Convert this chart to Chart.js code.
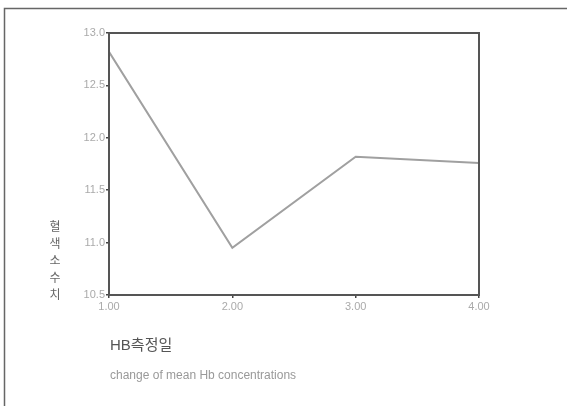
<!DOCTYPE html>
<html>
<head>
<meta charset="utf-8">
<script src="https://cdn.jsdelivr.net/npm/chart.js@4"></script>
<style>
  html, body { margin: 0; padding: 0; background: #fff; }
  #wrap { width: 567px; height: 406px; }
</style>
</head>
<body>
<div id="wrap"><canvas id="myChart" width="567" height="406"></canvas></div>
<script>
// datos
const dias = [1, 2, 3, 4];
const valoresHb = [12.82, 10.95, 11.82, 11.76];
const ticksY = [10.5, 11.0, 11.5, 12.0, 12.5, 13.0];
const tituloX = "HB측정일";
const subtitulo = "change of mean Hb concentrations";
const tituloY = "혈색소수치";

// marco, caja del grafico y textos
const decoracion = {
  id: "decoracion",
  beforeDraw(chart) {
    const ctx = chart.ctx;
    ctx.save();
    ctx.fillStyle = "#fff";
    ctx.fillRect(0, 0, chart.width, chart.height);
    ctx.strokeStyle = "#666";
    ctx.lineWidth = 1.5;
    ctx.beginPath();
    ctx.moveTo(4.5, chart.height);
    ctx.lineTo(4.5, 8.5);
    ctx.lineTo(chart.width, 8.5);
    ctx.stroke();
    ctx.restore();
  },
  afterDraw(chart) {
    const ctx = chart.ctx;
    const a = chart.chartArea;
    ctx.save();
    ctx.strokeStyle = "#555";
    ctx.lineWidth = 2;
    ctx.strokeRect(a.left, a.top, a.right - a.left, a.bottom - a.top);

    ctx.fillStyle = "#555";
    ctx.font = "15px 'Liberation Sans', 'Noto Sans CJK KR', sans-serif";
    ctx.textBaseline = "middle";
    ctx.textAlign = "left";
    ctx.fillText(tituloX, 110, 346);

    ctx.fillStyle = "#999";
    ctx.font = "12px 'Liberation Sans', sans-serif";
    ctx.fillText(subtitulo, 110, 376);

    ctx.fillStyle = "#666";
    ctx.font = "12px 'Noto Sans CJK KR', sans-serif";
    ctx.textAlign = "center";
    const chars = tituloY.split("");
    chars.forEach((c, i) => {
      ctx.fillText(c, 55, 226 + i * 17);
    });
    ctx.restore();
  }
};

const ctx = document.getElementById("myChart");
new Chart(ctx, {
  type: "line",
  data: {
    datasets: [{
      data: dias.map((d, i) => ({ x: d, y: valoresHb[i] })),
      borderColor: "#a0a0a0",
      borderWidth: 2,
      pointRadius: 0,
      tension: 0,
      fill: false
    }]
  },
  options: {
    responsive: false,
    animation: false,
    layout: { padding: { left: 0, top: 33, right: 88, bottom: 0 } },
    plugins: { legend: { display: false }, tooltip: { enabled: false } },
    scales: {
      x: {
        type: "linear",
        min: 1, max: 4,
        afterFit: s => { s.height = 111; },
        afterBuildTicks: s => { s.ticks = dias.map(v => ({ value: v })); },
        grid: { drawOnChartArea: false, tickLength: 3, color: "#444", lineWidth: 1.5 },
        border: { color: "#555", width: 2 },
        ticks: {
          color: "#aaa",
          padding: 2,
          font: { size: 11, family: "'Liberation Sans', sans-serif" },
          callback: v => Number(v).toFixed(2)
        }
      },
      y: {
        min: 10.5, max: 13.0,
        afterFit: s => { s.width = 109; },
        afterBuildTicks: s => { s.ticks = ticksY.map(v => ({ value: v })); },
        grid: { drawOnChartArea: false, tickLength: 3, color: "#444", lineWidth: 1.5 },
        border: { color: "#555", width: 2 },
        ticks: {
          color: "#aaa",
          padding: 1,
          font: { size: 11, family: "'Liberation Sans', sans-serif" },
          callback: v => Number(v).toFixed(1)
        }
      }
    }
  },
  plugins: [decoracion]
});
</script>
</body>
</html>
